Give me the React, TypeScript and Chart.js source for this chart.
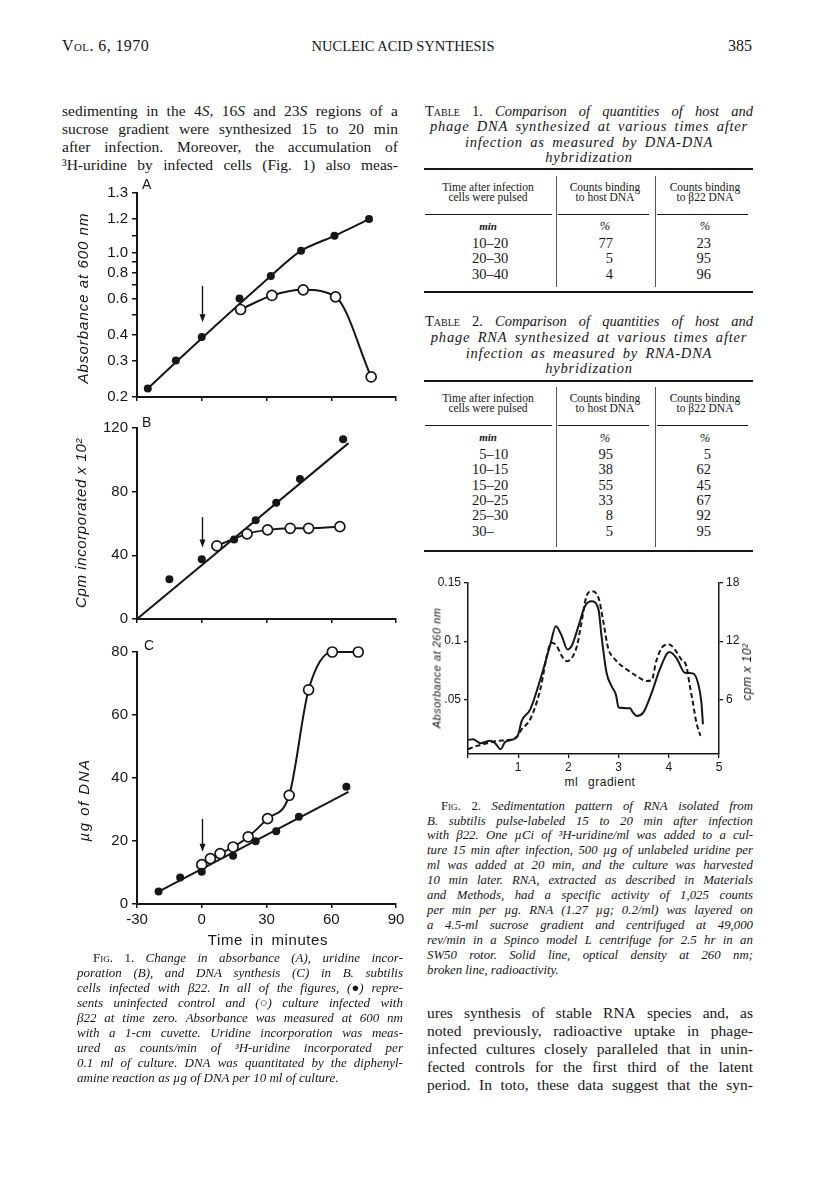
import React, { useEffect, useRef } from 'react';
import { Chart, registerables, LinearScale } from 'chart.js';

Chart.register(...registerables);

// ---------------- Fig. 1A : absorbance (printed log axis) ----------------
const A_TICKS = [0.2, 0.3, 0.4, 0.5, 0.6, 0.7, 0.8, 0.9, 1.0, 1.1, 1.2, 1.3];
const A_TICK_LABELS = ['0.2', '0.3', '0.4', '', '0.6', '', '0.8', '', '1.0', '', '1.2', '1.3'];
// where each printed tick sits on the underlying log ruling of the original axis
const A_TICK_LOGPOS = [0.2, 0.3, 0.4, 0.5, 0.6, 0.7, 0.8, 0.9, 1.0, 1.205, 1.452, 1.941];

const A_CTRL_T = [-25, -12, 0, 17.5, 32, 46, 61.5, 77.5];
const A_CTRL = [0.22, 0.3, 0.39, 0.6, 0.77, 1.01, 1.1, 1.2];
const A_INF_T = [18, 32.5, 47, 62, 78.5];
const A_INF = [0.53, 0.62, 0.66, 0.61, 0.25];
const A_FIT_T = [-25, 0, 32, 46, 61.5, 77.5];
const A_FIT = [0.22, 0.385, 0.77, 1.01, 1.1, 1.2];
const A_ARROW = [0.69, 0.46];

// ---------------- Fig. 1B : uridine incorporation ----------------
const B_CTRL_T = [-15, 0, 15, 25, 34.5, 45.5, 65.5];
const B_CTRL = [25, 37.5, 50, 62, 73, 88, 113];
const B_INF_T = [7, 21, 30.5, 41, 49.5, 64];
const B_INF = [46, 53.5, 56, 57, 57, 58];
const B_FIT_T = [-30, 68];
const B_FIT = [0, 110.5];
const B_ARROW = [64, 45];

// ---------------- Fig. 1C : DNA ----------------
const C_CTRL_T = [-20, -10, 0, 14.5, 25, 34.5, 45, 67];
const C_CTRL = [4, 8.4, 10.2, 15.3, 19.9, 23.1, 27.7, 37.2];
const C_INF_T = [0, 4, 8.5, 14.5, 21.5, 30.5, 40.5, 49.5, 60.5, 72.5];
const C_INF = [12.5, 14.4, 16, 18.1, 21.3, 27.1, 34.5, 68, 80, 80];
const C_FIT_T = [-20, 68];
const C_FIT = [3.9, 35.6];
const C_ARROW = [27, 16.6];

// ---------------- Fig. 2 : sedimentation ----------------
const FIG2_OD_ML = [0, 0.1, 0.25, 0.44, 0.54, 0.65, 0.74, 0.87, 0.99, 1.07, 1.24, 1.44, 1.64, 1.75, 1.87, 1.98, 2.07, 2.2, 2.33, 2.46, 2.6, 2.66, 2.76, 2.86, 2.95, 3.0, 3.23, 3.28, 3.36, 3.49, 3.66, 3.82, 4.01, 4.15, 4.32, 4.48, 4.58, 4.65, 4.68];
const FIG2_OD = [0.0151, 0.0157, 0.0123, 0.0143, 0.0123, 0.0071, 0.0134, 0.0151, 0.0186, 0.0314, 0.0414, 0.0671, 0.0971, 0.1129, 0.1043, 0.0929, 0.0963, 0.1129, 0.13, 0.1343, 0.1271, 0.1043, 0.0729, 0.0614, 0.0534, 0.0429, 0.0423, 0.0391, 0.0357, 0.0386, 0.0557, 0.0757, 0.0906, 0.0857, 0.0729, 0.0723, 0.0643, 0.0471, 0.0286];
const FIG2_CPM_ML = [0, 0.18, 0.38, 0.58, 0.84, 0.99, 1.07, 1.24, 1.44, 1.6, 1.67, 1.77, 1.87, 1.97, 2.07, 2.17, 2.26, 2.36, 2.46, 2.6, 2.7, 2.79, 2.93, 3.16, 3.36, 3.56, 3.66, 3.75, 3.89, 4.01, 4.12, 4.25, 4.35, 4.42, 4.48, 4.55, 4.63];
const FIG2_CPM = [0.86, 1.2, 1.47, 1.71, 1.82, 2.23, 2.91, 3.94, 7.03, 11.14, 11.83, 11.49, 10.46, 9.94, 10.29, 11.49, 13.89, 16.63, 17.14, 16.46, 13.89, 11.31, 10.11, 9.09, 8.4, 7.89, 7.99, 9.94, 11.49, 11.66, 11.14, 10.11, 9.43, 7.37, 5.66, 3.6, 2.23];
const FIG2_OD_TICKS = [0.05, 0.1, 0.15];
const FIG2_OD_TICK_LABELS = ['.05', '0.1', '0.15'];
const FIG2_CPM_TICKS = [6, 12, 18];

// ---------------- Tables ----------------
const T1_TIME = ['10–20', '20–30', '30–40'];
const T1_HOST = ['77', '5', '4'];
const T1_PHAGE = ['23', '95', '96'];
const T2_TIME = ['\u20075–10', '10–15', '15–20', '20–25', '25–30', '30–'];
const T2_HOST = ['95', '38', '55', '33', '8', '5'];
const T2_PHAGE = ['5', '62', '45', '67', '92', '95'];

// ---------------- Text ----------------
const PARA_LEFT = [
  'sedimenting in the 4{S}, 16{S} and 23{S} regions of a',
  'sucrose gradient were synthesized 15 to 20 min',
  'after infection. Moreover, the accumulation of',
  '³H-uridine by infected cells (Fig. 1) also meas-',
];
const T1_CAPTION = [
  '[Table] [1.] Comparison of quantities of host and',
  'phage DNA synthesized at various times after',
  'infection as measured by DNA-DNA',
  'hybridization',
];
const T2_CAPTION = [
  '[Table] [2.] Comparison of quantities of host and',
  'phage RNA synthesized at various times after',
  'infection as measured by RNA-DNA',
  'hybridization',
];
const FIG1_CAPTION = [
  '[Fig.] [1.] Change in absorbance (A), uridine incor-',
  'poration (B), and DNA synthesis (C) in B. subtilis',
  'cells infected with β22. In all of the figures, ({●}) repre-',
  'sents uninfected control and ({○}) culture infected with',
  'β22 at time zero. Absorbance was measured at 600 nm',
  'with a 1-cm cuvette. Uridine incorporation was meas-',
  'ured as counts/min of ³H-uridine incorporated per',
  '0.1 ml of culture. DNA was quantitated by the diphenyl-',
  'amine reaction as µg of DNA per 10 ml of culture.',
];
const FIG2_CAPTION = [
  '[Fig.] [2.] Sedimentation pattern of RNA isolated from',
  'B. subtilis pulse-labeled 15 to 20 min after infection',
  'with β22. One µCi of ³H-uridine/ml was added to a cul-',
  'ture 15 min after infection, 500 µg of unlabeled uridine per',
  'ml was added at 20 min, and the culture was harvested',
  '10 min later. RNA, extracted as described in Materials',
  'and Methods, had a specific activity of 1,025 counts',
  'per min per µg. RNA (1.27 µg; 0.2/ml) was layered on',
  'a 4.5-ml sucrose gradient and centrifuged at 49,000',
  'rev/min in a Spinco model L centrifuge for 2.5 hr in an',
  'SW50 rotor. Solid line, optical density at 260 nm;',
  'broken line, radioactivity.',
];
const BODY_RIGHT = [
  'ures synthesis of stable RNA species and, as',
  'noted previously, radioactive uptake in phage-',
  'infected cultures closely paralleled that in unin-',
  'fected controls for the first third of the latent',
  'period. In toto, these data suggest that the syn-',
];

const INK = '#161616';
const SERIF = '"Liberation Serif", "Times New Roman", serif';
const SANS = '"Liberation Sans", Arial, sans-serif';

// ---------- custom scale reproducing the printed absorbance axis ----------
function toLogPos(v: number): number {
  const n = A_TICKS.length;
  let i = 0;
  if (v >= A_TICKS[n - 1]) i = n - 2;
  else while (i < n - 2 && v > A_TICKS[i + 1]) i++;
  const f = (v - A_TICKS[i]) / (A_TICKS[i + 1] - A_TICKS[i]);
  return A_TICK_LOGPOS[i] + f * (A_TICK_LOGPOS[i + 1] - A_TICK_LOGPOS[i]);
}
function fromLogPos(e: number): number {
  const n = A_TICK_LOGPOS.length;
  let i = 0;
  if (e >= A_TICK_LOGPOS[n - 1]) i = n - 2;
  else while (i < n - 2 && e > A_TICK_LOGPOS[i + 1]) i++;
  const f = (e - A_TICK_LOGPOS[i]) / (A_TICK_LOGPOS[i + 1] - A_TICK_LOGPOS[i]);
  return A_TICKS[i] + f * (A_TICKS[i + 1] - A_TICKS[i]);
}

class CalibratedLogScale extends (LinearScale as any) {
  static id = 'calibratedLog';
  static defaults = {};
  determineDataLimits() {
    (this as any).min = A_TICKS[0];
    (this as any).max = A_TICKS[A_TICKS.length - 1];
  }
  buildTicks() {
    return A_TICKS.map((v) => ({ value: v }));
  }
  getPixelForValue(value: number) {
    const lo = Math.log10(A_TICK_LOGPOS[0]);
    const hi = Math.log10(A_TICK_LOGPOS[A_TICK_LOGPOS.length - 1]);
    const e = toLogPos(value);
    return (this as any).getPixelForDecimal((Math.log10(Math.max(e, 1e-6)) - lo) / (hi - lo));
  }
  getValueForPixel(pixel: number) {
    const lo = Math.log10(A_TICK_LOGPOS[0]);
    const hi = Math.log10(A_TICK_LOGPOS[A_TICK_LOGPOS.length - 1]);
    const d = (this as any).getDecimalForPixel(pixel);
    return fromLogPos(Math.pow(10, lo + d * (hi - lo)));
  }
}
Chart.register(CalibratedLogScale as any);

const zip = (xs: number[], ys: number[]) => xs.map((x, i) => ({ x, y: ys[i] }));

const arrowPlugin = (from: number, to: number) => ({
  id: 'arrowAtZero',
  afterDatasetsDraw(chart: any) {
    const { ctx, scales } = chart;
    const x = Math.round(scales.x.getPixelForValue(0)) + 0.5;
    const y1 = scales.y.getPixelForValue(from);
    const y2 = scales.y.getPixelForValue(to);
    ctx.save();
    ctx.strokeStyle = INK;
    ctx.fillStyle = INK;
    ctx.lineWidth = 1.4;
    ctx.beginPath();
    ctx.moveTo(x, y1);
    ctx.lineTo(x, y2 - 6);
    ctx.stroke();
    ctx.beginPath();
    ctx.moveTo(x - 3, y2 - 8);
    ctx.lineTo(x + 3, y2 - 8);
    ctx.lineTo(x, y2);
    ctx.closePath();
    ctx.fill();
    ctx.restore();
  },
});

function fig1Config(p: any) {
  return {
    type: 'scatter',
    data: {
      datasets: [
        {
          data: zip(p.ctrlT, p.ctrl),
          showLine: false,
          pointRadius: 4,
          pointBackgroundColor: INK,
          pointBorderColor: INK,
          pointBorderWidth: 0,
          clip: false,
        },
        {
          data: zip(p.infT, p.inf),
          showLine: true,
          borderColor: INK,
          borderWidth: 2,
          cubicInterpolationMode: 'monotone',
          pointRadius: 5,
          pointBackgroundColor: '#ffffff',
          pointBorderColor: INK,
          pointBorderWidth: 1.7,
          clip: false,
        },
        {
          data: zip(p.fitT, p.fit),
          showLine: true,
          borderColor: INK,
          borderWidth: 2,
          tension: p.fitTension || 0,
          pointRadius: 0,
          clip: false,
        },
      ],
    },
    options: {
      animation: false,
      responsive: false,
      events: [],
      layout: { padding: p.pad },
      plugins: { legend: { display: false }, tooltip: { enabled: false } },
      scales: {
        x: {
          type: 'linear',
          min: -30,
          max: 90,
          ticks: {
            stepSize: 30,
            display: p.xLabels,
            autoSkip: false,
            maxRotation: 0,
            padding: 3,
            color: INK,
            font: { family: SANS, size: 15 },
          },
          grid: { drawOnChartArea: false, drawTicks: true, tickLength: 4, color: INK, lineWidth: 1.5 },
          border: { display: true, color: INK, width: 2 },
          afterFit: (s: any) => {
            s.height = p.xLabels ? 28 : 8;
          },
        },
        y: {
          ...p.y,
          ticks: {
            ...(p.y.ticks || {}),
            autoSkip: false,
            padding: 4,
            color: INK,
            font: { family: SANS, size: 15 },
          },
          grid: { drawOnChartArea: false, drawTicks: true, tickLength: 5, color: INK, lineWidth: 1.5 },
          border: { display: true, color: INK, width: 2 },
          afterFit: (s: any) => {
            s.width = 77;
          },
        },
      },
    },
    plugins: [arrowPlugin(p.arrow[0], p.arrow[1])],
  };
}

const fig1A = () =>
  fig1Config({
    ctrlT: A_CTRL_T, ctrl: A_CTRL, infT: A_INF_T, inf: A_INF, fitT: A_FIT_T, fit: A_FIT, fitTension: 0.25,
    arrow: A_ARROW, xLabels: false, pad: { top: 18, bottom: 5, left: 0, right: 14 },
    y: { type: 'calibratedLog', ticks: { callback: (_v: any, i: number) => A_TICK_LABELS[i] } },
  });
const fig1B = () =>
  fig1Config({
    ctrlT: B_CTRL_T, ctrl: B_CTRL, infT: B_INF_T, inf: B_INF, fitT: B_FIT_T, fit: B_FIT,
    arrow: B_ARROW, xLabels: false, pad: { top: 16, bottom: 4, left: 0, right: 14 },
    y: { type: 'linear', min: 0, max: 120, ticks: { stepSize: 40 } },
  });
const fig1C = () =>
  fig1Config({
    ctrlT: C_CTRL_T, ctrl: C_CTRL, infT: C_INF_T, inf: C_INF, fitT: C_FIT_T, fit: C_FIT,
    arrow: C_ARROW, xLabels: true, pad: { top: 16, bottom: 4, left: 0, right: 14 },
    y: { type: 'linear', min: 0, max: 80, ticks: { stepSize: 20 } },
  });

const fig2 = () => ({
  type: 'scatter',
  data: {
    datasets: [
      {
        data: zip(FIG2_OD_ML, FIG2_OD),
        yAxisID: 'y',
        showLine: true,
        borderColor: INK,
        borderWidth: 2,
        cubicInterpolationMode: 'monotone',
        pointRadius: 0,
        clip: false,
      },
      {
        data: zip(FIG2_CPM_ML, FIG2_CPM),
        yAxisID: 'y1',
        showLine: true,
        borderColor: INK,
        borderWidth: 2,
        borderDash: [5, 3],
        cubicInterpolationMode: 'monotone',
        pointRadius: 0,
        clip: false,
      },
    ],
  },
  options: {
    animation: false,
    responsive: false,
    events: [],
    layout: { padding: { top: 13, bottom: 1, left: 0, right: 5 } },
    plugins: { legend: { display: false }, tooltip: { enabled: false } },
    scales: {
      x: {
        type: 'linear',
        min: 0,
        max: 5,
        ticks: {
          stepSize: 1,
          autoSkip: false,
          maxRotation: 0,
          padding: 2,
          color: INK,
          font: { family: SANS, size: 12 },
          callback: (v: any) => (v === 0 ? '' : String(v)),
        },
        grid: { drawOnChartArea: false, tickLength: 4, color: INK, lineWidth: 1.3 },
        border: { display: true, color: INK, width: 1.5 },
        afterFit: (s: any) => {
          s.height = 20;
        },
      },
      y: {
        type: 'linear',
        position: 'left',
        min: 0.003,
        max: 0.15,
        afterBuildTicks: (s: any) => {
          s.ticks = FIG2_OD_TICKS.map((v) => ({ value: v }));
        },
        ticks: {
          autoSkip: false,
          padding: 3,
          color: INK,
          font: { family: SANS, size: 12 },
          callback: (v: any) => FIG2_OD_TICK_LABELS[FIG2_OD_TICKS.indexOf(v)] ?? '',
        },
        grid: { drawOnChartArea: false, tickLength: 4, color: INK, lineWidth: 1.3 },
        border: { display: true, color: INK, width: 1.5 },
        afterFit: (s: any) => {
          s.width = 38;
        },
      },
      y1: {
        type: 'linear',
        position: 'right',
        min: 0.36,
        max: 18,
        afterBuildTicks: (s: any) => {
          s.ticks = FIG2_CPM_TICKS.map((v) => ({ value: v }));
        },
        ticks: {
          autoSkip: false,
          padding: 3,
          color: INK,
          font: { family: SANS, size: 12 },
        },
        grid: { drawOnChartArea: false, tickLength: 4, color: INK, lineWidth: 1.3 },
        border: { display: true, color: INK, width: 1.5 },
        afterFit: (s: any) => {
          s.width = 26;
        },
      },
    },
  },
});

function ChartBox({ left, top, width, height, make }: any) {
  const ref = useRef<HTMLCanvasElement | null>(null);
  useEffect(() => {
    if (!ref.current) return;
    const chart = new Chart(ref.current, make());
    return () => chart.destroy();
  }, []);
  return (
    <canvas
      ref={ref}
      width={width}
      height={height}
      style={{ position: 'absolute', left, top, width, height, display: 'block' }}
    />
  );
}

// --- text helpers: {..} toggles italic/roman, [..] small caps roman ---
function renderWord(w: string, baseItalic: boolean) {
  const out: any[] = [];
  let buf = '';
  let inv = false;
  let sc = false;
  const flush = () => {
    if (!buf) return;
    const it = sc ? false : baseItalic !== inv;
    out.push(
      <span key={out.length} style={{ fontStyle: it ? 'italic' : 'normal', fontVariant: sc ? 'small-caps' : 'normal' }}>
        {buf}
      </span>
    );
    buf = '';
  };
  for (const ch of w) {
    if (ch === '{') { flush(); inv = true; }
    else if (ch === '}') { flush(); inv = false; }
    else if (ch === '[') { flush(); sc = true; }
    else if (ch === ']') { flush(); sc = false; }
    else buf += ch;
  }
  flush();
  return out;
}

function TLine({ x, y, w, text, size, italic = false, align = 'justify', ls = 0, ws = 0, font = SERIF, weight = 400 }: any) {
  const words = text.split(' ');
  const lh = size * 1.15;
  const base: any = {
    position: 'absolute', left: x, top: y - lh / 2, width: w, height: lh, lineHeight: `${lh}px`,
    fontFamily: font, fontSize: size, fontStyle: italic ? 'italic' : 'normal', fontWeight: weight,
    letterSpacing: ls, wordSpacing: ws, color: INK, whiteSpace: 'nowrap',
  };
  if (align === 'justify') {
    return (
      <div style={{ ...base, display: 'flex', justifyContent: 'space-between' }}>
        {words.map((wd: string, i: number) => <span key={i}>{renderWord(wd, italic)}</span>)}
      </div>
    );
  }
  return (
    <div style={{ ...base, textAlign: align }}>
      {words.map((wd: string, i: number) => (
        <React.Fragment key={i}>{i > 0 ? ' ' : ''}{renderWord(wd, italic)}</React.Fragment>
      ))}
    </div>
  );
}

function VText({ cx, cy, text, size, italic = true, ls = 0, font = SANS }: any) {
  return (
    <div style={{
      position: 'absolute', left: cx, top: cy, transform: 'translate(-50%, -50%) rotate(-90deg)',
      whiteSpace: 'nowrap', fontFamily: font, fontSize: size, fontStyle: italic ? 'italic' : 'normal',
      letterSpacing: ls, color: INK, lineHeight: 1,
    }}>{text}</div>
  );
}

function Rule({ x, y, w, h = 1, color = INK }: any) {
  return <div style={{ position: 'absolute', left: x, top: y - h / 2, width: w, height: h, background: color }} />;
}
function VRule({ x, y1, y2 }: any) {
  return <div style={{ position: 'absolute', left: x, top: y1, width: 1, height: y2 - y1, background: '#555' }} />;
}

function Table({ capY, caption, topRule, head1, head2, headRule, minY, rowY, rowStep, times, host, phage, bottomRule, sepTop, sepBottom }: any) {
  const els: any[] = [];
  caption.forEach((t: string, i: number) => {
    els.push(
      <TLine key={'c' + i} x={425} y={capY[i]} w={328} text={t} size={14.5} italic
        align={i === 0 ? 'justify' : 'center'} ls={i === 0 ? 0 : 0.8} ws={i === 0 ? 0 : 3} />
    );
  });
  els.push(<Rule key="tr" x={424} y={topRule} w={329} h={2} />);
  const heads = [
    ['Time after infection', 'cells were pulsed', 488],
    ['Counts binding', 'to host DNA', 605],
    ['Counts binding', 'to β22 DNA', 705],
  ];
  heads.forEach((h: any, i: number) => {
    els.push(<TLine key={'h1' + i} x={h[2] - 60} y={head1} w={120} text={h[0]} size={11.5} align="center" />);
    els.push(<TLine key={'h2' + i} x={h[2] - 60} y={head2} w={120} text={h[1]} size={11.5} align="center" />);
  });
  els.push(<Rule key="hr1" x={425} y={headRule} w={127} />);
  els.push(<Rule key="hr2" x={558} y={headRule} w={91} />);
  els.push(<Rule key="hr3" x={657} y={headRule} w={91} />);
  els.push(<VRule key="v1" x={556} y1={sepTop} y2={sepBottom} />);
  els.push(<VRule key="v2" x={655} y1={sepTop} y2={sepBottom} />);
  els.push(<TLine key="min" x={468} y={minY} w={40} text="min" size={11} italic weight={700} align="center" />);
  els.push(<TLine key="p1" x={585} y={minY} w={40} text="%" size={12.5} italic align="center" />);
  els.push(<TLine key="p2" x={685} y={minY} w={40} text="%" size={12.5} italic align="center" />);
  times.forEach((t: string, i: number) => {
    const y = rowY + i * rowStep;
    els.push(<TLine key={'t' + i} x={472} y={y} w={60} text={t} size={14.5} align="left" />);
    els.push(<TLine key={'a' + i} x={573} y={y} w={40} text={host[i]} size={14.5} align="right" />);
    els.push(<TLine key={'b' + i} x={671} y={y} w={40} text={phage[i]} size={14.5} align="right" />);
  });
  els.push(<Rule key="br" x={424} y={bottomRule} w={329} h={2} />);
  return <>{els}</>;
}

export default function App() {
  return (
    <div style={{ position: 'absolute', left: 0, top: 0, width: 816, height: 1188, background: '#fff', overflow: 'hidden', color: INK }}>
      {/* running header */}
      <TLine x={62} y={46} w={150} text="[Vol.] 6, 1970" size={16} ls={0.4} align="left" />
      <TLine x={253} y={46} w={300} text="NUCLEIC ACID SYNTHESIS" size={14.5} align="center" />
      <TLine x={652} y={46} w={100} text="385" size={16} align="right" />

      {/* left column text */}
      {PARA_LEFT.map((t, i) => (
        <TLine key={'pl' + i} x={62} y={111 + i * 18} w={336} text={t} size={15.5} />
      ))}

      {/* Fig. 1 */}
      <ChartBox left={60} top={175} width={350} height={235} make={fig1A} />
      <ChartBox left={60} top={412} width={350} height={220} make={fig1B} />
      <ChartBox left={60} top={636} width={350} height={300} make={fig1C} />
      <div style={{ position: 'absolute', left: 142, top: 176, fontFamily: SANS, fontSize: 14 }}>A</div>
      <div style={{ position: 'absolute', left: 142, top: 414, fontFamily: SANS, fontSize: 14 }}>B</div>
      <div style={{ position: 'absolute', left: 144, top: 637, fontFamily: SANS, fontSize: 14 }}>C</div>
      <VText cx={81.5} cy={298} text="Absorbance at 600 nm" size={15} ls={1} />
      <VText cx={80} cy={523} text="Cpm incorporated x 10²" size={15} ls={0.6} />
      <VText cx={83} cy={800} text="µg of DNA" size={15} ls={1.5} />
      <TLine x={168} y={940} w={200} text="Time in minutes" size={15} font={SANS} align="center" ls={0.6} ws={3} />

      {FIG1_CAPTION.map((t, i) => (
        <TLine key={'f1' + i} x={i === 0 ? 93 : 77} y={958 + i * 15.1} w={i === 0 ? 310 : 326} text={t} size={13}
          italic align={i === FIG1_CAPTION.length - 1 ? 'left' : 'justify'} />
      ))}

      {/* right column */}
      <Table capY={[111, 126.7, 142.3, 157.7]} caption={T1_CAPTION} topRule={169.3} head1={187.3} head2={197.3}
        headRule={214.3} minY={226} rowY={243.3} rowStep={15.35} times={T1_TIME} host={T1_HOST} phage={T1_PHAGE}
        bottomRule={291.7} sepTop={176} sepBottom={287} />
      <Table capY={[321.7, 337.3, 353.3, 368.3]} caption={T2_CAPTION} topRule={380.7} head1={398.3} head2={408.3}
        headRule={425} minY={437.7} rowY={454.3} rowStep={15.35} times={T2_TIME} host={T2_HOST} phage={T2_PHAGE}
        bottomRule={551} sepTop={386.7} sepBottom={546.7} />

      {/* Fig. 2 */}
      <ChartBox left={430} top={570} width={320} height={205} make={fig2} />
      <VText cx={437} cy={668} text="Absorbance at 260 nm" size={11} ls={0.5} />
      <VText cx={747} cy={672} text="cpm x 10²" size={12} ls={0.5} />
      <TLine x={540} y={783} w={120} text="ml gradient" size={12} font={SANS} align="center" ws={6} ls={0.5} />

      {FIG2_CAPTION.map((t, i) => (
        <TLine key={'f2' + i} x={i === 0 ? 441 : 427} y={806 + i * 14.9} w={i === 0 ? 312 : 326} text={t} size={12.8}
          italic align={i === FIG2_CAPTION.length - 1 ? 'left' : 'justify'} />
      ))}
      {BODY_RIGHT.map((t, i) => (
        <TLine key={'br' + i} x={427} y={1013 + i * 18} w={326} text={t} size={15.5} />
      ))}
    </div>
  );
}
